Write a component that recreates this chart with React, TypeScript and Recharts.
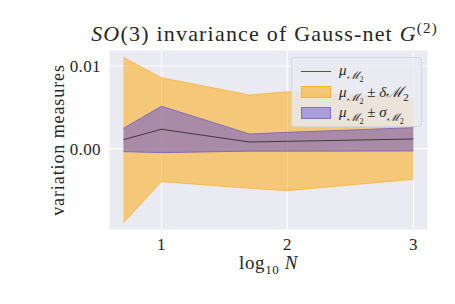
import React from 'react';
import { ComposedChart, Area, Line, XAxis, YAxis, CartesianGrid } from 'recharts';

// log10 N sample points
const logN = [0.699, 1, 1.699, 2, 3];
const mean = [0.00109, 0.00235, 0.00081, 0.00089, 0.00117];
const deltaLow = [-0.00895, -0.00399, -0.00479, -0.00508, -0.0037];
const deltaHigh = [0.01105, 0.00859, 0.00649, 0.00689, 0.00609];
const sigmaLow = [-0.00036, -0.00048, -0.0003, -0.0003, -0.00028];
const sigmaHigh = [0.00247, 0.00513, 0.00178, 0.00198, 0.00254];

const xTicks = [1, 2, 3];
const yTicks = [0, 0.01];

const FONT = '"Liberation Serif", "DejaVu Serif", serif';
const ORANGE = '#FFA500';
const PURPLE = '#6A5ACD';
const TXT = '#262626';

const data = logN.map((x, i) => ({
    x,
    mean: mean[i],
    delta: [deltaLow[i], deltaHigh[i]],
    sigma: [sigmaLow[i], sigmaHigh[i]],
}));

const Sub = ({ children, s = 11 }: { children: React.ReactNode; s?: number }) => (
    <sub style={{ fontSize: s, verticalAlign: 'sub', lineHeight: 0 }}>{children}</sub>
);

const M2 = () => (
    <span><i>μ</i><Sub><i>ℳ</i><Sub s={8}>2</Sub></Sub></span>
);

const legendItems = [
    { kind: 'line', label: <M2 /> },
    { kind: 'orange', label: <span><M2 /> ± <i>δℳ</i><Sub>2</Sub></span> },
    { kind: 'purple', label: <span><M2 /> ± <i>σ</i><Sub><i>ℳ</i><Sub s={8}>2</Sub></Sub></span> },
];

function LegendBox() {
    return (
        <div style={{
            position: 'absolute', left: 291, top: 57, width: 129, height: 68,
            background: 'rgba(234,234,242,0.8)', border: '1px solid #d4d4da',
            borderRadius: 3, fontFamily: FONT, fontSize: 15, color: TXT,
        }}>
            {legendItems.map((it, i) => (
                <div key={i} style={{ position: 'absolute', left: 0, top: 3 + i * 21, height: 20, display: 'flex', alignItems: 'center' }}>
                    <div style={{ width: 47, display: 'flex', justifyContent: 'center' }}>
                        {it.kind === 'line' ? (
                            <div style={{ width: 30, height: 1, background: '#555' }} />
                        ) : (
                            <div style={{
                                width: 28, height: 10,
                                background: it.kind === 'orange' ? 'rgba(255,165,0,0.5)' : 'rgba(106,90,205,0.5)',
                                border: `1px solid ${it.kind === 'orange' ? 'rgba(255,165,0,0.6)' : 'rgba(106,90,205,0.7)'}`,
                            }} />
                        )}
                    </div>
                    <div style={{ whiteSpace: 'nowrap' }}>{it.label}</div>
                </div>
            ))}
        </div>
    );
}

export default function App() {
    const tickStyle = { fill: TXT, fontSize: 17, fontFamily: FONT, letterSpacing: 0.4 };
    return (
        <div style={{ position: 'absolute', left: 0, top: 0, width: 455, height: 304, background: '#fff', fontFamily: FONT }}>
            <ComposedChart width={455} height={304} data={data} margin={{ top: 50, right: 27, bottom: 0, left: 0 }}>
                <CartesianGrid fill="#EAEAF2" stroke="#fff" strokeWidth={1} />
                <XAxis
                    type="number"
                    dataKey="x"
                    domain={[0.584, 3.116]}
                    ticks={xTicks}
                    allowDataOverflow
                    axisLine={false}
                    tickLine={false}
                    tickSize={0}
                    tickMargin={8}
                    height={74}
                    tick={tickStyle}
                />
                <YAxis
                    type="number"
                    domain={[-0.00983, 0.01193]}
                    ticks={yTicks}
                    allowDataOverflow
                    axisLine={false}
                    tickLine={false}
                    tickSize={0}
                    tickMargin={8}
                    width={109}
                    tickFormatter={(v) => Number(v).toFixed(2)}
                    tick={tickStyle}
                />
                <Area dataKey="delta" type="linear" fill={ORANGE} fillOpacity={0.5} stroke={ORANGE} strokeOpacity={0.55} strokeWidth={1} isAnimationActive={false} />
                <Area dataKey="sigma" type="linear" fill={PURPLE} fillOpacity={0.55} stroke={PURPLE} strokeOpacity={0.75} strokeWidth={1} isAnimationActive={false} />
                <Line dataKey="mean" type="linear" stroke="#1e1e1e" strokeOpacity={0.85} strokeWidth={0.9} dot={false} isAnimationActive={false} />
            </ComposedChart>
            <div style={{
                position: 'absolute', left: 0, width: 529, top: 21, textAlign: 'center', fontFamily: FONT,
                fontSize: 22, letterSpacing: 1.2, color: TXT, whiteSpace: 'nowrap',
            }}>
                <i>SO</i>(3) invariance of Gauss-net <i>G</i><sup style={{ fontSize: 15, lineHeight: 0 }}>(2)</sup>
            </div>
            <div style={{
                position: 'absolute', left: 0, width: 537, top: 252, textAlign: 'center', fontFamily: FONT,
                fontSize: 19, letterSpacing: 0.6, color: TXT,
            }}>
                log<sub style={{ fontSize: 13, lineHeight: 0 }}>10</sub> <i>N</i>
            </div>
            <div style={{
                position: 'absolute', left: 58, top: 140, transform: 'translate(-50%, -50%) rotate(-90deg)', fontFamily: FONT,
                fontSize: 18, letterSpacing: 0.9, color: TXT, whiteSpace: 'nowrap',
            }}>
                variation measures
            </div>
            <LegendBox />
        </div>
    );
}
